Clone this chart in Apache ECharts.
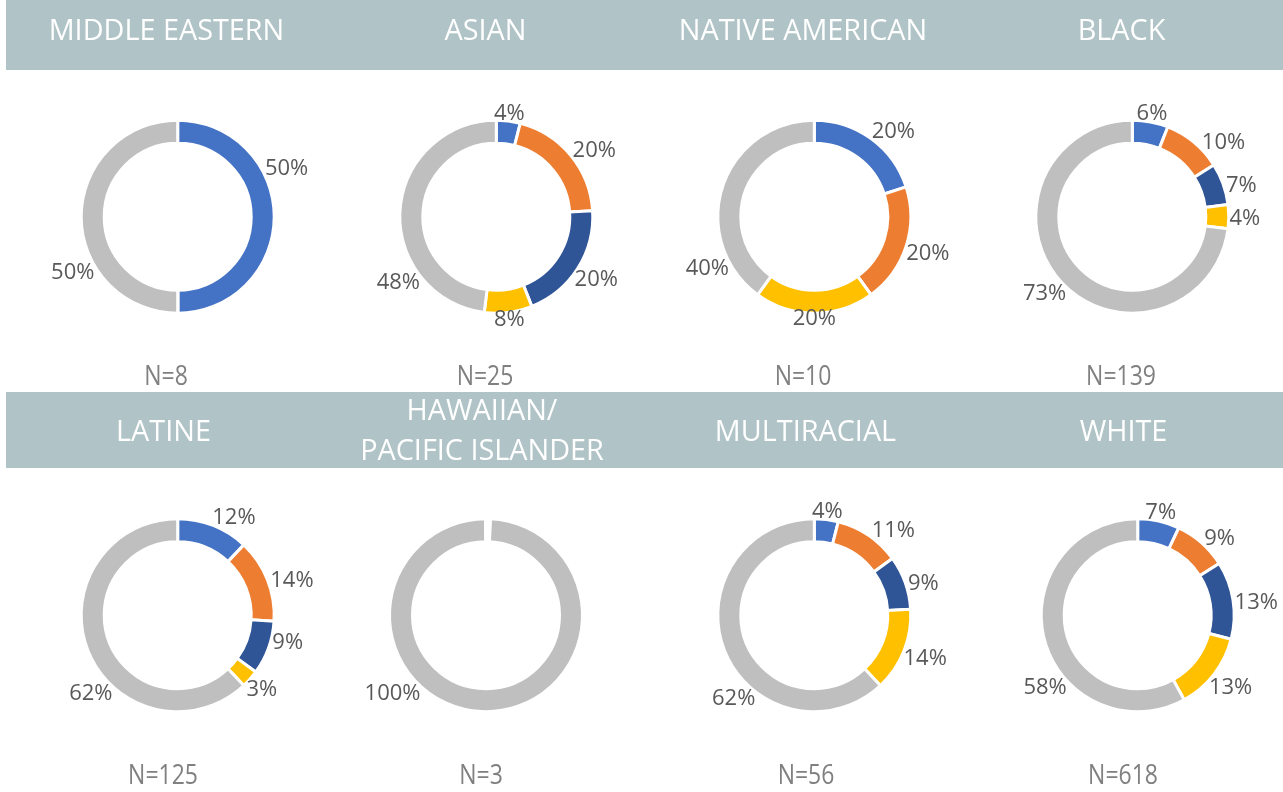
<!DOCTYPE html>
<html><head><meta charset="utf-8">
<script src="https://cdn.jsdelivr.net/npm/echarts@6/dist/echarts.min.js"></script>
<style>html,body{margin:0;padding:0;background:#fff}#c{width:1283px;height:792px}</style>
</head><body><div id="c"></div>
<script>
// ---------- data ----------
const groups = ['MIDDLE EASTERN','ASIAN','NATIVE AMERICAN','BLACK','LATINE','HAWAIIAN/\nPACIFIC ISLANDER','MULTIRACIAL','WHITE'];
const sampleSizes = [8, 25, 10, 139, 125, 3, 56, 618];
const segments = ['Segment 1','Segment 2','Segment 3','Segment 4','Remainder'];
const middleEastern = [50, 0, 0, 0, 50];
const asian = [4, 20, 20, 8, 48];
const nativeAmerican = [20, 20, 0, 20, 40];
const black = [6, 10, 7, 4, 73];
const latine = [12, 14, 9, 3, 62];
const hawaiianPacificIslander = [0, 0, 0, 0, 100];
const multiracial = [4, 11, 9, 14, 62];
const white = [7, 9, 13, 13, 58];
const groupValues = [middleEastern, asian, nativeAmerican, black, latine, hawaiianPacificIslander, multiracial, white];

// ---------- layout & style ----------
const segmentColors = ['#4472C4','#ED7D31','#2F5597','#FFC000','#BFBFBF'];
const donutCenters = [[177.7,216.7],[496.3,216.7],[814.3,216.7],[1132.3,216.7],
                      [177.7,615.2],[486,615.2],[814.3,615.2],[1137.7,615.2]];
const titlePos = [[166.5,31],[485.5,31],[803,31],[1121.5,31],[163.5,432],[482,431],[805.5,432],[1123.5,432]];
const nPos = [[166,377],[485,377],[803,377],[1121,377],[163,776],[481,776],[806,776],[1123,776]];
// label angle overrides (deg clockwise from top), null = slice mid-angle
const labelAngles = [
  [66,null,null,null,242],
  [null,56,null,null,236],
  [43,null,null,null,244],
  [null,51,74,91,null],
  [30,73,104,null,228],
  [null,null,null,null,230],
  [null,43,74,null,224],
  [null,47,84,null,232]
];
const LABEL_R = 96, LABEL_HALF_H = 6, LABEL_FONT = 22;

const chart = echarts.init(document.getElementById('c'), null, {renderer:'canvas'});

const series = groupValues.map((vals, i) => {
  const total = vals.reduce((a,b)=>a+b,0);
  const nonZero = vals.filter(v => v > 0).length;
  return {
    type:'pie',
    center: donutCenters[i],
    radius: [73.5, 96.5],
    startAngle: 90,
    clockwise: true,
    padAngle: nonZero === 1 ? 0.6 : 0,
    avoidLabelOverlap: false,
    silent: true,
    animation: false,
    itemStyle: {borderColor:'#fff', borderWidth:3},
    label: {
      show: true, position: 'outside',
      formatter: p => p.value ? p.value + '%' : '',
      color: '#595959', fontSize: LABEL_FONT, fontFamily: 'Open Sans'
    },
    labelLine: {show:false},
    labelLayout: p => {
      const k = p.dataIndex;
      let before = 0;
      for (let j = 0; j < k; j++) before += vals[j];
      const mid = (before + vals[k]/2) / total * 360;
      const ang = labelAngles[i][k] != null ? labelAngles[i][k] : mid;
      const r = ang * Math.PI / 180, s = Math.sin(r), c = Math.cos(r);
      const a = p.labelRect.width / 2 + 1;
      const d = LABEL_R + a*Math.abs(s) + LABEL_HALF_H*Math.abs(c);
      return {
        x: donutCenters[i][0] + d*s,
        y: donutCenters[i][1] - d*c,
        align: 'center', verticalAlign: 'middle'
      };
    },
    data: vals.map((v,k) => ({name: segments[k], value: v, itemStyle:{color: segmentColors[k]}}))
  };
});

const graphics = [
  {type:'rect', shape:{x:6, y:0, width:1277, height:70}, style:{fill:'#B0C3C6'}, z:-1},
  {type:'rect', shape:{x:6, y:392, width:1277, height:76}, style:{fill:'#B0C3C6'}, z:-1}
];
groups.forEach((g, i) => {
  graphics.push({type:'text', x: titlePos[i][0], y: titlePos[i][1], scaleX: 0.96,
    style:{text: g, fill:'#ffffff', fontSize: 30, fontFamily:'Open Sans', align:'center', verticalAlign:'middle', lineHeight: 40}});
  graphics.push({type:'text', x: nPos[i][0], y: nPos[i][1], scaleX: 0.82,
    style:{text: 'N=' + sampleSizes[i], fill:'#808080', fontSize: 28, fontFamily:'Open Sans', align:'center', verticalAlign:'middle'}});
});

chart.setOption({
  animation: false,
  backgroundColor: '#ffffff',
  series: series,
  graphic: graphics
});
</script>
</body></html>
